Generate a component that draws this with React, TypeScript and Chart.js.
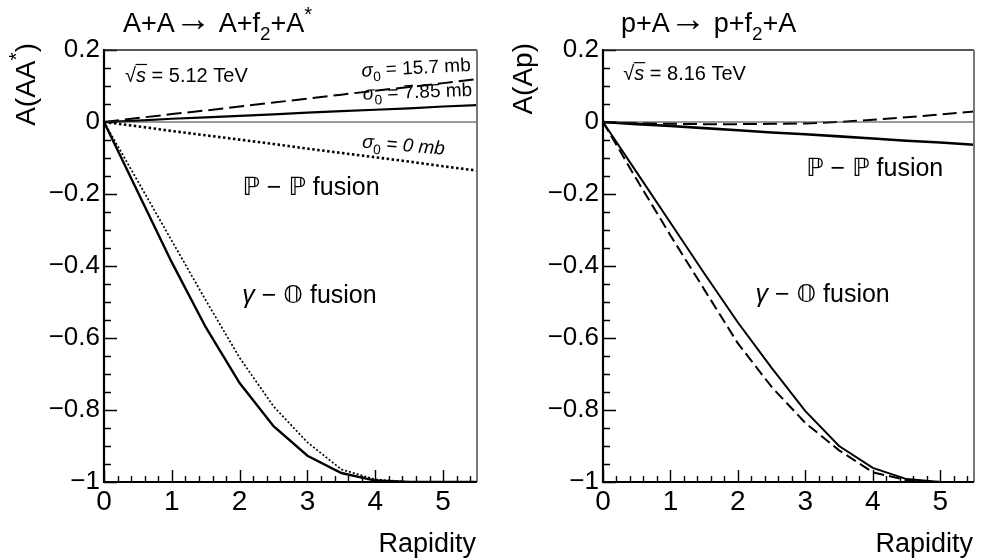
import React, { useEffect, useRef } from "react";
import { Chart, registerables } from "chart.js";

Chart.register(...registerables);

// ---------------- DATA ----------------
const rapidity = [0, 0.5, 1, 1.5, 2, 2.5, 3, 3.5, 4, 4.5, 5, 5.5];

// Left panel: A+A -> A+f2+A*, sqrt(s) = 5.12 TeV
const aaPomSigma157 = [0, 0.011, 0.022, 0.032, 0.043, 0.054, 0.065, 0.076, 0.087, 0.097, 0.108, 0.119];
const aaPomSigma785 = [0, 0.004, 0.009, 0.013, 0.017, 0.021, 0.026, 0.03, 0.034, 0.038, 0.043, 0.047];
const aaPomSigma0 = [0, -0.012, -0.025, -0.037, -0.049, -0.061, -0.074, -0.086, -0.098, -0.11, -0.123, -0.135];
const aaGammaSolid = [0, -0.195, -0.39, -0.57, -0.725, -0.845, -0.927, -0.975, -0.996, -1.0, -1.0, -1.0];
const aaGammaDotted = [0, -0.165, -0.33, -0.495, -0.655, -0.79, -0.89, -0.965, -0.993, -1.0, -1.0, -1.0];

// Right panel: p+A -> p+f2+A, sqrt(s) = 8.16 TeV
const paPomSolid = [0, -0.006, -0.011, -0.017, -0.023, -0.029, -0.034, -0.04, -0.046, -0.052, -0.057, -0.063];
const paPomDashed = [0, -0.003, -0.005, -0.006, -0.006, -0.005, -0.004, 0.0, 0.006, 0.013, 0.021, 0.029];
const paGammaSolid = [0, -0.14, -0.28, -0.42, -0.557, -0.683, -0.803, -0.9, -0.961, -0.992, -1.0, -1.0];
const paGammaDashed = [0, -0.16, -0.315, -0.465, -0.615, -0.736, -0.836, -0.912, -0.973, -0.995, -1.0, -1.0];

const zeroLineX = [0, 5.5];
const zeroLineY = [0, 0];

const xMajorTicks = [0, 1, 2, 3, 4, 5];
const yMajorTicks = [-1, -0.8, -0.6, -0.4, -0.2, 0, 0.2];
const xRange = [0, 5.5];
const yRange = [-1, 0.2];

// ---------------- STYLE ----------------
const FAMILY = "'Liberation Sans', Arial, Helvetica, 'DejaVu Sans', sans-serif";
const W = 493;
const H = 558;

type Seg = { t: string; s?: number; dy?: number; it?: boolean };

function drawSegs(
  ctx: CanvasRenderingContext2D,
  segs: Seg[],
  x: number,
  y: number,
  size: number,
  align: "left" | "right" = "left"
) {
  const fonts = segs.map((sg) => `${sg.it ? "italic " : ""}${(size * (sg.s ?? 1)).toFixed(1)}px ${FAMILY}`);
  const widths = segs.map((sg, i) => {
    ctx.font = fonts[i];
    return ctx.measureText(sg.t).width;
  });
  const total = widths.reduce((a, b) => a + b, 0);
  let cx = align === "right" ? x - total : x;
  ctx.textAlign = "left";
  ctx.textBaseline = "alphabetic";
  const pos: number[] = [];
  segs.forEach((sg, i) => {
    ctx.font = fonts[i];
    ctx.fillText(sg.t, cx, y + (sg.dy ?? 0) * size);
    pos.push(cx);
    cx += widths[i];
  });
  return { pos, widths };
}

const pts = (xs: number[], ys: number[]) => xs.map((x, i) => ({ x, y: ys[i] }));

type Note = { segs: Seg[]; x: number; y: number; size: number; rot?: number; sqrt?: boolean };

interface PanelCfg {
  datasets: any[];
  padRight: number;
  yWidth: number;
  title: Seg[];
  titleX: number;
  yTitle: Seg[];
  yTitleX: number;
  xTitleRight: number;
  notes: Note[];
}

const fmtY = (v: number) => {
  if (v === 0) return "0";
  const a = Math.abs(v);
  const s = Number.isInteger(a) ? String(a) : a.toFixed(1);
  return (v < 0 ? "\u2212" : "") + s;
};

function line(data: number[], width: number, dash: number[] = [], color = "#000") {
  return {
    data: pts(rapidity, data),
    borderColor: color,
    borderWidth: width,
    borderDash: dash,
    pointRadius: 0,
    tension: 0,
    fill: false,
  };
}

const zeroDs = {
  data: pts(zeroLineX, zeroLineY),
  borderColor: "#333",
  borderWidth: 1,
  pointRadius: 0,
  fill: false,
};

const sigmaSegs = (val: string, italicVal = false): Seg[] => [
  { t: "\u03C3", it: true },
  { t: "0", s: 0.72, dy: 0.28 },
  { t: " = " },
  { t: val, it: italicVal },
];

const leftPanel: PanelCfg = {
  padRight: W - 477,
  yWidth: 104,
  datasets: [
    zeroDs,
    line(aaPomSigma157, 2, [15, 6]),
    line(aaPomSigma785, 2.2),
    line(aaPomSigma0, 2.6, [2.5, 2.5]),
    line(aaGammaSolid, 2.4),
    line(aaGammaDotted, 1.7, [2, 2]),
  ],
  title: [
    { t: "A+A" },
    { t: "\u2192", s: 1.35, dy: -0.02 },
    { t: " A+f" },
    { t: "2", s: 0.7, dy: 0.3 },
    { t: "+A" },
    { t: "*", s: 0.75, dy: -0.42 },
  ],
  titleX: 123,
  yTitle: [{ t: "A(AA" }, { t: "*", s: 0.75, dy: -0.42 }, { t: ")" }],
  yTitleX: 35,
  xTitleRight: 476,
  notes: [
    { segs: [{ t: "\u221A" }, { t: "s", it: true }, { t: " = 5.12 TeV" }], x: 0.31, y: 0.112, size: 20, sqrt: true },
    { segs: sigmaSegs("15.7 mb"), x: 3.8, y: 0.126, size: 19, rot: -3 },
    { segs: sigmaSegs("7.85 mb"), x: 3.82, y: 0.062, size: 19, rot: -2 },
    { segs: sigmaSegs("0 mb", true), x: 3.8, y: -0.071, size: 19, rot: 5 },
    { segs: [{ t: "\u2119 \u2212 \u2119 fusion" }], x: 2.04, y: -0.202, size: 25 },
    { segs: [{ t: "\u03B3", it: true }, { t: " \u2212 \uD835\uDD46 fusion" }], x: 2.04, y: -0.502, size: 25 },
  ],
};

const rightPanel: PanelCfg = {
  padRight: W - 481,
  yWidth: 110,
  datasets: [
    zeroDs,
    line(paPomSolid, 2.6),
    line(paPomDashed, 2, [14, 6]),
    line(paGammaSolid, 2),
    line(paGammaDashed, 2, [11, 5]),
  ],
  title: [
    { t: "p+A" },
    { t: "\u2192", s: 1.35, dy: -0.02 },
    { t: " p+f" },
    { t: "2", s: 0.7, dy: 0.3 },
    { t: "+A" },
  ],
  titleX: 128,
  yTitle: [{ t: "A(Ap)" }],
  yTitleX: 39,
  xTitleRight: 480,
  notes: [
    { segs: [{ t: "\u221A" }, { t: "s", it: true }, { t: " = 8.16 TeV" }], x: 0.3, y: 0.117, size: 20, sqrt: true },
    { segs: [{ t: "\u2119 \u2212 \u2119 fusion" }], x: 3.01, y: -0.149, size: 25 },
    { segs: [{ t: "\u03B3", it: true }, { t: " \u2212 \uD835\uDD46 fusion" }], x: 2.26, y: -0.5, size: 25 },
  ],
};

function makeDecor(cfg: PanelCfg) {
  return {
    id: "rootDecor",
    afterDatasetsDraw(chart: any) {
      const { ctx, chartArea: ca, scales } = chart;
      const xs = scales.x;
      const ys = scales.y;
      ctx.save();
      // inner ticks
      ctx.strokeStyle = "#000";
      ctx.lineWidth = 1.4;
      ctx.beginPath();
      for (let i = 0; i <= 24; i++) {
        const v = yRange[0] + i * 0.05;
        const py = Math.round(ys.getPixelForValue(v)) + 0.5;
        const len = i % 4 === 0 ? 13 : 7;
        ctx.moveTo(ca.left, py);
        ctx.lineTo(ca.left + len, py);
      }
      for (let i = 0; i <= 27; i++) {
        const v = xRange[0] + i * 0.2;
        const px = Math.round(xs.getPixelForValue(v)) + 0.5;
        const len = i % 5 === 0 ? 12 : 6;
        ctx.moveTo(px, ca.bottom);
        ctx.lineTo(px, ca.bottom - len);
      }
      ctx.stroke();
      // frame
      ctx.lineWidth = 1.5;
      ctx.strokeStyle = "#222";
      ctx.beginPath();
      ctx.moveTo(ca.left, ca.top);
      ctx.lineTo(ca.right, ca.top);
      ctx.stroke();
      ctx.lineWidth = 2;
      ctx.strokeStyle = "#777";
      ctx.beginPath();
      ctx.moveTo(ca.right, ca.top);
      ctx.lineTo(ca.right, ca.bottom);
      ctx.stroke();
      ctx.strokeStyle = "#000";
      ctx.lineWidth = 2.2;
      ctx.beginPath();
      ctx.moveTo(ca.left, ca.top - 1);
      ctx.lineTo(ca.left, ca.bottom + 1);
      ctx.moveTo(ca.left - 1, ca.bottom);
      ctx.lineTo(ca.right, ca.bottom);
      ctx.stroke();

      ctx.fillStyle = "#000";
      // top title
      drawSegs(ctx, cfg.title, cfg.titleX, 32, 27);
      // x title
      drawSegs(ctx, [{ t: "Rapidity" }], cfg.xTitleRight, 552, 27, "right");
      // y title (rotated)
      ctx.save();
      ctx.translate(cfg.yTitleX, 43);
      ctx.rotate(-Math.PI / 2);
      drawSegs(ctx, cfg.yTitle, 0, 0, 28, "right");
      ctx.restore();
      // annotations
      cfg.notes.forEach((n) => {
        const px = xs.getPixelForValue(n.x);
        const py = ys.getPixelForValue(n.y);
        ctx.save();
        ctx.translate(px, py);
        if (n.rot) ctx.rotate((n.rot * Math.PI) / 180);
        const r = drawSegs(ctx, n.segs, 0, 0, n.size);
        if (n.sqrt) {
          ctx.strokeStyle = "#000";
          ctx.lineWidth = 1.2;
          ctx.beginPath();
          const yTop = -0.86 * n.size;
          ctx.moveTo(r.pos[1] - 0.5, yTop);
          ctx.lineTo(r.pos[1] + r.widths[1] + 1, yTop);
          ctx.stroke();
        }
        ctx.restore();
      });
      ctx.restore();
    },
  };
}

function Panel({ cfg, left }: { cfg: PanelCfg; left: number }) {
  const ref = useRef<HTMLCanvasElement | null>(null);
  useEffect(() => {
    if (!ref.current) return;
    const chart = new Chart(ref.current, {
      type: "line",
      data: { datasets: cfg.datasets },
      options: {
        animation: false,
        responsive: false,
        maintainAspectRatio: false,
        events: [],
        layout: { padding: { left: 0, top: 50, right: cfg.padRight, bottom: 0 } },
        plugins: { legend: { display: false }, tooltip: { enabled: false } },
        scales: {
          x: {
            type: "linear",
            min: xRange[0],
            max: xRange[1],
            grid: { display: false, drawTicks: false },
            border: { display: false },
            ticks: {
              color: "#000",
              font: { family: FAMILY, size: 28 },
              padding: 3,
              maxRotation: 0,
              autoSkip: false,
            },
            afterBuildTicks: (s: any) => {
              s.ticks = xMajorTicks.map((v) => ({ value: v }));
            },
            afterFit: (s: any) => {
              s.height = H - 482;
            },
          },
          y: {
            type: "linear",
            min: yRange[0],
            max: yRange[1],
            grid: { display: false, drawTicks: false },
            border: { display: false },
            ticks: {
              color: "#000",
              font: { family: FAMILY, size: 26 },
              padding: 4,
              autoSkip: false,
              callback: (v: any) => fmtY(Number(v)),
            },
            afterBuildTicks: (s: any) => {
              s.ticks = yMajorTicks.map((v) => ({ value: v }));
            },
            afterFit: (s: any) => {
              s.width = cfg.yWidth;
            },
          },
        },
      } as any,
      plugins: [makeDecor(cfg)],
    });
    return () => chart.destroy();
  }, [cfg]);
  return (
    <canvas
      ref={ref}
      width={W}
      height={H}
      style={{ position: "absolute", left, top: 0, width: W, height: H }}
    />
  );
}

export default function App() {
  return (
    <div style={{ position: "fixed", left: 0, top: 0, width: 986, height: 558, background: "#fff" }}>
      <Panel cfg={leftPanel} left={0} />
      <Panel cfg={rightPanel} left={493} />
    </div>
  );
}
